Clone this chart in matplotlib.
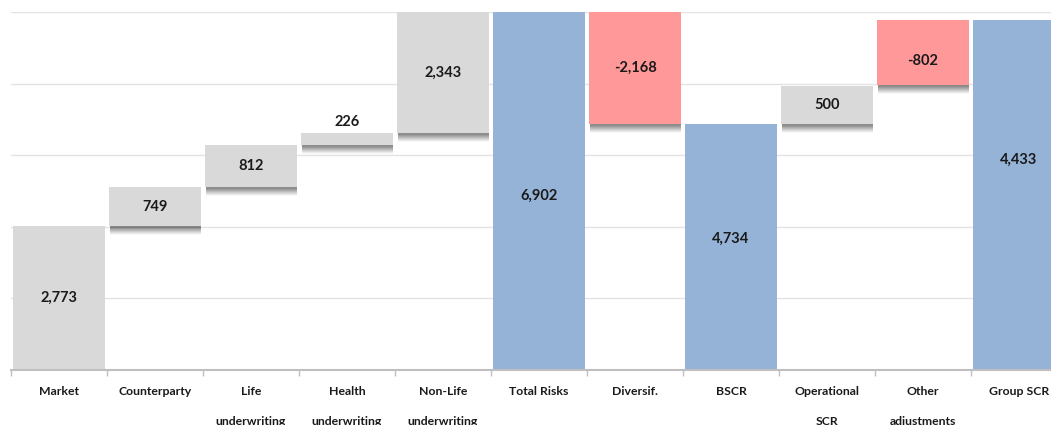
import matplotlib
matplotlib.use("Agg")
import matplotlib.pyplot as plt
import matplotlib.patheffects as pe
import numpy as np

# ---- data ----
categories = ["Market", "Counterparty", "Life\nunderwriting", "Health\nunderwriting",
              "Non-Life\nunderwriting", "Total Risks", "Diversif.", "BSCR",
              "Operational\nSCR", "Other\nadjustments", "Group SCR"]
value_labels = ["2,773", "749", "812", "226", "2,343", "6,902", "-2,168",
                "4,734", "500", "-802", "4,433"]
bar_bottoms = [0, 2773, 3522, 4334, 4560, 0, 4734, 0, 4734, 5500, 0]
bar_tops = [2773, 3522, 4334, 4560, 6903, 6902, 6902, 4734, 5480, 6750, 6750]
kinds = ["base", "step", "step", "step", "step", "total", "neg", "total",
         "step", "neg", "total"]

# ---- style ----
colors = {"base": "#D9D9D9", "step": "#D9D9D9", "total": "#95B3D7", "neg": "#FF9999"}
# label offsets in pixels (y) relative to bar middle
label_offsets = [0, 0, 0, None, 0, -5, 0, 8, 0, -9, 35]

W, H, DPI = 1051, 425, 100
fig = plt.figure(figsize=(W / DPI, H / DPI), dpi=DPI)
left_px, right_px, top_px, bottom_px = 11, 11 + 11 * 96, 12, 370
ax = fig.add_axes([left_px / W, (H - bottom_px) / H,
                   (right_px - left_px) / W, (bottom_px - top_px) / H])

ymax = 6902
ax.set_ylim(0, ymax)
ax.set_xlim(-0.5, len(categories) - 0.5)

for g in np.linspace(0, ymax, 6)[1:]:
    ax.axhline(g, color="#E3E3E3", lw=1.0, zorder=0)

px2pt = 72 / DPI
shadow = [pe.SimplePatchShadow(offset=(0.8 * px2pt, -o * px2pt), shadow_rgbFace="#000000", alpha=a)
          for o, a in [(2, 0.09), (3, 0.09), (4, 0.08), (5, 0.08), (6, 0.07), (7, 0.06), (8, 0.05), (9, 0.03)]]
shadow.append(pe.Normal())

x = np.arange(len(categories))
heights = [t - b for t, b in zip(bar_tops, bar_bottoms)]
for i in range(len(categories)):
    k = kinds[i]
    bars = ax.bar(x[i], heights[i], bottom=bar_bottoms[i], width=0.95,
                  color=colors[k], edgecolor="none", zorder=2)
    if k in ("step", "neg"):
        bars[0].set_path_effects(shadow)

for i, lab in enumerate(value_labels):
    if label_offsets[i] is None:
        y, off = bar_tops[i], 11
    else:
        y, off = (bar_tops[i] + bar_bottoms[i]) / 2, label_offsets[i]
    ax.annotate(lab, (x[i], y), xytext=(0, off * px2pt), textcoords="offset points",
                ha="center", va="center", fontsize=10.5, fontweight="bold",
                family=["Lato", "DejaVu Sans"], color="#1a1a1a", zorder=5)

for s in ["left", "right", "top"]:
    ax.spines[s].set_visible(False)
ax.spines["bottom"].set_color("#BFBFBF")
ax.spines["bottom"].set_linewidth(1.5)
ax.spines["bottom"].set_zorder(4)
ax.set_yticks([])
ax.set_xticks(np.arange(-0.5, len(categories), 1.0))
ax.set_xticklabels([])
ax.tick_params(axis="x", direction="out", length=4, width=1, color="#BFBFBF")

for i, c in enumerate(categories):
    ax.annotate(c, (x[i], 0), xytext=(0, -16 * px2pt), textcoords="offset points",
                ha="center", va="top", fontsize=8.8, fontweight="bold",
                family=["Lato", "DejaVu Sans"], color="#1a1a1a",
                linespacing=3.1, annotation_clip=False)

fig.savefig("out.png", dpi=DPI)
